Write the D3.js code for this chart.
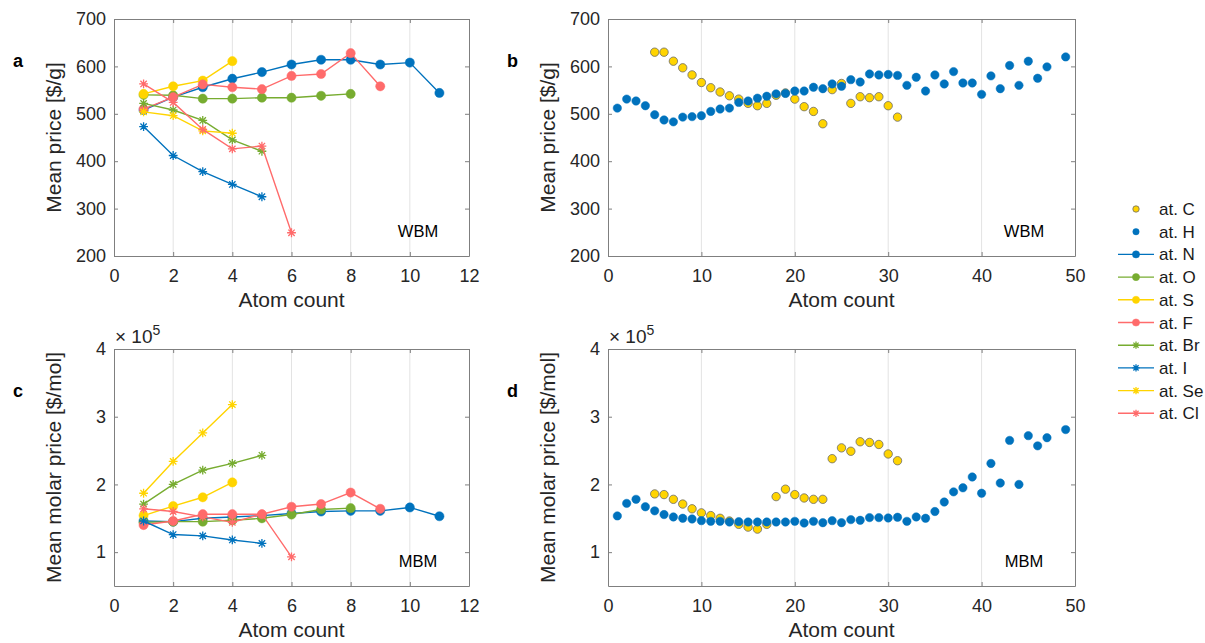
<!DOCTYPE html>
<html>
<head>
<meta charset="utf-8">
<script src="https://cdn.jsdelivr.net/npm/d3@7"></script>
<style>
  body { margin: 0; background: #fff; }
  svg { font-family: "Liberation Sans", Arial, sans-serif; }
</style>
</head>
<body>
<svg width="1205" height="643"></svg>
<script>

// atom counts for each substituent
var countN  = [1, 2, 3, 4, 5, 6, 7, 8, 9, 10, 11];
var countO  = [1, 2, 3, 4, 5, 6, 7, 8];
var countS  = [1, 2, 3, 4];
var countF  = [1, 2, 3, 4, 5, 6, 7, 8, 9];
var countBr = [1, 2, 3, 4, 5];
var countI  = [1, 2, 3, 4, 5];
var countSe = [1, 2, 3, 4];
var countCl = [1, 2, 3, 4, 5, 6];
var countC  = [5, 6, 7, 8, 9, 10, 11, 12, 13, 14, 15, 16, 17, 18, 19, 20, 21, 22, 23, 24, 25, 26, 27, 28, 29, 30, 31];
var countH  = [1, 2, 3, 4, 5, 6, 7, 8, 9, 10, 11, 12, 13, 14, 15, 16, 17, 18, 19, 20, 21, 22, 23, 24, 25,
               26, 27, 28, 29, 30, 31, 32, 33, 34, 35, 36, 37, 38, 39, 40, 41, 42, 43, 44, 45, 46, 47, 49];

// WBM mean price [$/g]
var wbmN  = [508, 535, 556, 574, 588, 604, 614, 614, 604, 608, 544];
var wbmO  = [540, 539, 532, 532, 534, 534, 538, 542];
var wbmS  = [542, 558, 570, 611];
var wbmF  = [510, 535, 562, 556, 552, 580, 584, 628, 558];
var wbmBr = [522, 508, 486, 445, 421];
var wbmI  = [473, 412, 378, 351, 325];
var wbmSe = [504, 496, 464, 459];
var wbmCl = [563, 524, 467, 426, 432, 249];
var wbmC  = [630, 630, 611, 597, 582, 566, 555, 546, 538, 531, 522, 517, 522, 539, 544, 531, 515, 505, 479,
             551, 564, 522, 536, 534, 536, 517, 493];
var wbmH  = [512, 531, 527, 517, 498, 487, 483, 493, 494, 496, 505, 510, 512, 524, 527, 533, 537, 542, 543,
             548, 548, 556, 553, 563, 558, 572, 567, 584, 582, 583, 581, 560, 577, 548, 582, 563, 589, 565,
             565, 541, 580, 553, 602, 560, 611, 575, 599, 620];

// MBM mean molar price [$/mol]
var mbmN  = [146000, 145000, 150000, 152000, 154000, 157000, 160000, 161000, 161000, 166000, 153000];
var mbmO  = [144000, 145000, 145000, 147000, 150000, 155500, 163000, 165000];
var mbmS  = [154000, 168000, 181000, 203000];
var mbmF  = [140000, 146000, 156000, 156000, 156000, 167000, 171000, 188000, 164000];
var mbmBr = [171000, 200000, 221000, 231000, 243000];
var mbmI  = [146000, 126000, 124000, 118000, 113000];
var mbmSe = [187000, 234000, 276000, 318000];
var mbmCl = [164000, 160000, 152000, 144000, 156000, 93000];
var mbmC  = [186000, 185000, 178000, 171000, 164000, 158000, 154000, 150000, 146000, 141000, 137000, 134000,
             141000, 182000, 193000, 185000, 180000, 178000, 178000, 238000, 254000, 249000, 263000, 262000,
             259000, 245000, 235000];
var mbmH  = [153500, 172000, 178000, 167000, 161000, 155500, 152000, 150000, 149000, 146500, 145500, 145500,
             144500, 145000, 144500, 144500, 144500, 144500, 144500, 145500, 143000, 145500, 143500, 146500,
             143500, 148000, 147000, 151000, 151000, 150500, 151500, 145500, 152000, 150000, 160000, 174000,
             189000, 195000, 211000, 187000, 231000, 202000, 265000, 200000, 272000, 257000, 269000, 281000];

var legendNames = ['at. C', 'at. H', 'at. N', 'at. O', 'at. S', 'at. F', 'at. Br', 'at. I', 'at. Se', 'at. Cl'];

var blue = '#0072BD', green = '#77AC30', yellow = '#FFD400', red = '#FF6B6B';

var svg = d3.select('svg');

// left column: substituent series (lines + markers)
var lineSeries = [
  { name: 'at. N',  color: blue,   marker: 'o', x: countN,  wbm: wbmN,  mbm: mbmN },
  { name: 'at. O',  color: green,  marker: 'o', x: countO,  wbm: wbmO,  mbm: mbmO },
  { name: 'at. S',  color: yellow, marker: 'o', x: countS,  wbm: wbmS,  mbm: mbmS },
  { name: 'at. F',  color: red,    marker: 'o', x: countF,  wbm: wbmF,  mbm: mbmF },
  { name: 'at. Br', color: green,  marker: '*', x: countBr, wbm: wbmBr, mbm: mbmBr },
  { name: 'at. I',  color: blue,   marker: '*', x: countI,  wbm: wbmI,  mbm: mbmI },
  { name: 'at. Se', color: yellow, marker: '*', x: countSe, wbm: wbmSe, mbm: mbmSe },
  { name: 'at. Cl', color: red,    marker: '*', x: countCl, wbm: wbmCl, mbm: mbmCl }
];

// right column: C and H scatter
var dotSeries = [
  { name: 'at. C', color: yellow, edge: '#6b6b6b', x: countC, wbm: wbmC, mbm: mbmC },
  { name: 'at. H', color: blue,   edge: blue,      x: countH, wbm: wbmH, mbm: mbmH }
];

function starPath(r) {
  var d = r * 0.72;
  return 'M' + (-r) + ',0H' + r + 'M0,' + (-r) + 'V' + r +
         'M' + (-d) + ',' + (-d) + 'L' + d + ',' + d +
         'M' + (-d) + ',' + d + 'L' + d + ',' + (-d);
}

function drawMarker(sel, m, color, r, edge) {
  if (m === 'o') {
    sel.append('circle').attr('r', r).attr('fill', color)
      .attr('stroke', edge || color).attr('stroke-width', edge ? 0.8 : 0.5);
  } else {
    sel.append('path').attr('d', starPath(r)).attr('fill', 'none')
      .attr('stroke', color).attr('stroke-width', 1.3);
  }
}

function panel(o) {
  var g = svg.append('g').attr('transform', `translate(${o.left},${o.top})`);
  var w = o.width, h = o.height;

  var x = d3.scaleLinear().domain(o.xDomain).range([0, w]);
  var y = d3.scaleLinear().domain(o.yDomain).range([h, 0]);

  // vertical grid
  g.append('g').selectAll('line').data(o.xTicks.slice(1, -1)).enter().append('line')
    .attr('x1', d => x(d)).attr('x2', d => x(d))
    .attr('y1', 0).attr('y2', h)
    .attr('stroke', '#e3e3e3').attr('stroke-width', 1);

  var tickCol = '#262626';

  var xAxis = g.append('g').attr('transform', `translate(0,${h})`)
    .call(d3.axisBottom(x).tickValues(o.xTicks).tickSize(-4).tickSizeOuter(0).tickPadding(13));
  var yAxis = g.append('g')
    .call(d3.axisLeft(y).tickValues(o.yTicks).tickSize(-4).tickSizeOuter(0).tickPadding(8).tickFormat(o.yFmt));
  var xTop = g.append('g')
    .call(d3.axisTop(x).tickValues(o.xTicks).tickSize(-4).tickSizeOuter(0).tickFormat(''));
  var yRight = g.append('g').attr('transform', `translate(${w},0)`)
    .call(d3.axisRight(y).tickValues(o.yTicks).tickSize(-4).tickSizeOuter(0).tickFormat(''));

  [xAxis, yAxis, xTop, yRight].forEach(function(a) {
    a.select('.domain').attr('stroke', '#7f7f7f');
    a.selectAll('.tick line').attr('stroke', '#7f7f7f');
    a.selectAll('text').attr('fill', tickCol).style('font-size', '18px')
      .style('font-family', '"Liberation Sans", Arial, sans-serif');
  });

  var plot = g.append('g');

  if (o.lines) {
    var line = d3.line().x(d => x(d[0])).y(d => y(d[1]));
    o.lines.forEach(function(s) {
      var pts = s.x.map((v, i) => [v, s[o.key][i]]);
      plot.append('path').datum(pts).attr('d', line)
        .attr('fill', 'none').attr('stroke', s.color).attr('stroke-width', 1.4);
      plot.append('g').selectAll('g').data(pts).enter().append('g')
        .attr('transform', d => `translate(${x(d[0])},${y(d[1])})`)
        .each(function() { drawMarker(d3.select(this), s.marker, s.color, s.marker === 'o' ? 4.6 : 4.4); });
    });
  }

  if (o.dots) {
    o.dots.forEach(function(s) {
      plot.append('g').selectAll('circle').data(s.x.map((v, i) => [v, s[o.key][i]])).enter()
        .append('circle')
        .attr('cx', d => x(d[0])).attr('cy', d => y(d[1])).attr('r', 4.2)
        .attr('fill', s.color).attr('stroke', s.edge).attr('stroke-width', s.edge === s.color ? 0.5 : 0.8);
    });
  }

  // panel letter
  svg.append('text').attr('x', o.left - 101).attr('y', o.top + 48)
    .style('font-size', '18px').style('font-weight', 'bold').attr('fill', '#000').text(o.letter);

  // axis labels
  g.append('text').attr('x', w / 2).attr('y', h + 51)
    .attr('text-anchor', 'middle').style('font-size', '21px').attr('fill', tickCol).text('Atom count');
  g.append('text').attr('transform', `translate(-53,${h / 2}) rotate(-90)`)
    .attr('text-anchor', 'middle').style('font-size', '21px').attr('fill', tickCol).text(o.yLabel);

  // method tag
  g.append('text').attr('x', o.tagX).attr('y', h - 19)
    .attr('text-anchor', 'middle').style('font-size', '16.5px').attr('fill', '#000').text(o.tag);

  if (o.exponent) {
    var t = g.append('text').attr('x', 1).attr('y', -6).style('font-size', '19px').attr('fill', tickCol);
    t.append('tspan').text('× 10');
    t.append('tspan').attr('dy', -8).style('font-size', '14px').text('5');
  }
}

var fmt1e5 = d => d / 1e5;

panel({ left: 114, top: 19, width: 355, height: 237, letter: 'a', key: 'wbm',
  xDomain: [0, 12], xTicks: [0, 2, 4, 6, 8, 10, 12],
  yDomain: [200, 700], yTicks: [200, 300, 400, 500, 600, 700], yFmt: d => d,
  yLabel: 'Mean price [$/g]', tag: 'WBM', tagX: 304, lines: lineSeries });

panel({ left: 608, top: 19, width: 467, height: 237, letter: 'b', key: 'wbm',
  xDomain: [0, 50], xTicks: [0, 10, 20, 30, 40, 50],
  yDomain: [200, 700], yTicks: [200, 300, 400, 500, 600, 700], yFmt: d => d,
  yLabel: 'Mean price [$/g]', tag: 'WBM', tagX: 416, dots: dotSeries });

panel({ left: 114, top: 349, width: 355, height: 237, letter: 'c', key: 'mbm',
  xDomain: [0, 12], xTicks: [0, 2, 4, 6, 8, 10, 12],
  yDomain: [50000, 400000], yTicks: [100000, 200000, 300000, 400000], yFmt: fmt1e5,
  yLabel: 'Mean molar price [$/mol]', tag: 'MBM', tagX: 304, lines: lineSeries, exponent: true });

panel({ left: 608, top: 349, width: 467, height: 237, letter: 'd', key: 'mbm',
  xDomain: [0, 50], xTicks: [0, 10, 20, 30, 40, 50],
  yDomain: [50000, 400000], yTicks: [100000, 200000, 300000, 400000], yFmt: fmt1e5,
  yLabel: 'Mean molar price [$/mol]', tag: 'MBM', tagX: 416, dots: dotSeries, exponent: true });

// legend
var legendStyle = {
  'at. C': { color: yellow, marker: 'o', line: false, edge: '#6b6b6b' },
  'at. H': { color: blue, marker: 'o', line: false }
};
lineSeries.forEach(s => { legendStyle[s.name] = { color: s.color, marker: s.marker, line: true }; });

var legend = svg.append('g').attr('transform', 'translate(1118,209)');
legendNames.forEach(function(name, i) {
  var st = legendStyle[name];
  var row = legend.append('g').attr('transform', `translate(0,${i * 22.7})`);
  if (st.line) {
    row.append('line').attr('x1', 0).attr('x2', 36).attr('stroke', st.color).attr('stroke-width', 1.4);
  }
  var m = row.append('g').attr('transform', 'translate(18,0)');
  drawMarker(m, st.marker, st.color, st.line ? 3.6 : 3.2, st.edge);
  row.append('text').attr('x', 41).attr('y', 6).style('font-size', '17px').attr('fill', '#1a1a1a').text(name);
});

</script>
</body>
</html>
